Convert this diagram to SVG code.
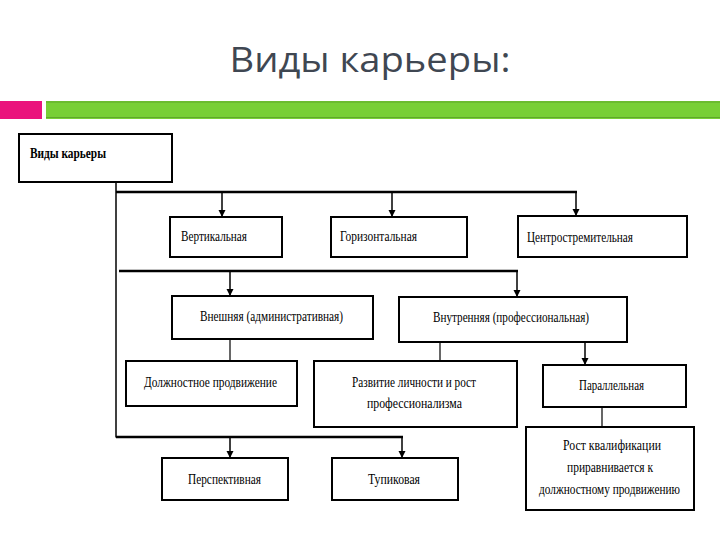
<svg xmlns="http://www.w3.org/2000/svg" width="720" height="540" viewBox="0 0 720 540">
<defs>
<style>
.box{fill:#fff;stroke:#000;stroke-width:2}
.t{font-family:"Liberation Serif","Times New Roman",serif;font-size:14px;fill:#000}
.c{stroke:#000;fill:none}
.title{font-family:"Open Sans","Noto Sans","DejaVu Sans",sans-serif;font-size:34px;fill:#3f4752}
</style>
<marker id="ah" viewBox="0 0 10 10" refX="10" refY="5" markerWidth="7" markerHeight="9" markerUnits="userSpaceOnUse" orient="auto">
<path d="M0,0 L10,5 L0,10 z" fill="#000"/>
</marker>
</defs>
<rect width="720" height="540" fill="#fff"/>
<text class="title" x="370" y="72" text-anchor="middle" textLength="281" lengthAdjust="spacingAndGlyphs">Виды карьеры:</text>
<rect x="0" y="101" width="42" height="18" fill="#ea137c"/>
<rect x="46" y="101" width="674" height="18" fill="#78cf35"/>
<line x1="46" y1="102" x2="720" y2="102" stroke="#5fa82a" stroke-width="1"/>
<line x1="46" y1="117.5" x2="720" y2="117.5" stroke="#5fa82a" stroke-width="1"/>

<g id="connectors">
<line class="c" x1="116" y1="182" x2="116" y2="437.5" stroke-width="1.5"/>
<line class="c" x1="116" y1="192" x2="577" y2="192" stroke-width="2.5"/>
<line class="c" x1="222" y1="192" x2="222" y2="217" stroke-width="1.5" marker-end="url(#ah)"/>
<line class="c" x1="392" y1="192" x2="392" y2="217" stroke-width="1.5" marker-end="url(#ah)"/>
<line class="c" x1="576" y1="192" x2="576" y2="216" stroke-width="1.5" marker-end="url(#ah)"/>
<line class="c" x1="119" y1="271" x2="518" y2="271" stroke-width="2.5"/>
<line class="c" x1="230" y1="271" x2="230" y2="296" stroke-width="1.5" marker-end="url(#ah)"/>
<line class="c" x1="517" y1="271" x2="517" y2="297" stroke-width="1.5" marker-end="url(#ah)"/>
<line class="c" x1="230" y1="339" x2="230" y2="361" stroke-width="1.2"/>
<line class="c" x1="440" y1="342" x2="440" y2="361" stroke-width="1.2"/>
<line class="c" x1="585" y1="342" x2="585" y2="365" stroke-width="1.5" marker-end="url(#ah)"/>
<line class="c" x1="602" y1="407" x2="602" y2="427" stroke-width="1.2"/>
<line class="c" x1="116" y1="437" x2="403" y2="437" stroke-width="2.5"/>
<line class="c" x1="230" y1="437" x2="230" y2="458" stroke-width="1.5" marker-end="url(#ah)"/>
<line class="c" x1="402" y1="437" x2="402" y2="458" stroke-width="1.5" marker-end="url(#ah)"/>
</g>

<g id="n-root"><rect class="box" x="19" y="134" width="153" height="48"/><text class="t" x="30" y="158" font-weight="bold" textLength="76" lengthAdjust="spacingAndGlyphs">Виды карьеры</text></g>
<g id="n-vert"><rect class="box" x="170" y="217" width="112" height="40"/><text class="t" x="181" y="241" textLength="66" lengthAdjust="spacingAndGlyphs">Вертикальная</text></g>
<g id="n-hor"><rect class="box" x="331" y="217" width="136" height="40"/><text class="t" x="340" y="241" textLength="77" lengthAdjust="spacingAndGlyphs">Горизонтальная</text></g>
<g id="n-centr"><rect class="box" x="518" y="216" width="169" height="41"/><text class="t" x="527" y="242" textLength="106" lengthAdjust="spacingAndGlyphs">Центростремительная</text></g>
<g id="n-ext"><rect class="box" x="172" y="296" width="201" height="43"/><text class="t" x="200" y="321" textLength="143" lengthAdjust="spacingAndGlyphs">Внешняя (административная)</text></g>
<g id="n-int"><rect class="box" x="399" y="297" width="228" height="45"/><text class="t" x="433" y="322" textLength="156" lengthAdjust="spacingAndGlyphs">Внутренняя (профессиональная)</text></g>
<g id="n-dolzh"><rect class="box" x="126" y="361" width="171" height="45"/><text class="t" x="144" y="387" textLength="133" lengthAdjust="spacingAndGlyphs">Должностное продвижение</text></g>
<g id="n-razv"><rect class="box" x="314" y="361" width="203" height="66"/><text class="t" x="352" y="387" textLength="124" lengthAdjust="spacingAndGlyphs">Развитие личности и рост</text><text class="t" x="367" y="408" textLength="95" lengthAdjust="spacingAndGlyphs">профессионализма</text></g>
<g id="n-par"><rect class="box" x="543" y="365" width="143" height="42"/><text class="t" x="579" y="390" textLength="65" lengthAdjust="spacingAndGlyphs">Параллельная</text></g>
<g id="n-rost"><rect class="box" x="526" y="427" width="168" height="83"/><text class="t" x="563" y="450" textLength="98" lengthAdjust="spacingAndGlyphs">Рост квалификации</text><text class="t" x="567" y="472" textLength="86" lengthAdjust="spacingAndGlyphs">приравнивается к</text><text class="t" x="539" y="494" textLength="141" lengthAdjust="spacingAndGlyphs">должностному продвижению</text></g>
<g id="n-persp"><rect class="box" x="162" y="458" width="126" height="42"/><text class="t" x="188" y="484" textLength="73" lengthAdjust="spacingAndGlyphs">Перспективная</text></g>
<g id="n-tup"><rect class="box" x="332" y="458" width="126" height="42"/><text class="t" x="368" y="484" textLength="52" lengthAdjust="spacingAndGlyphs">Тупиковая</text></g>
</svg>
